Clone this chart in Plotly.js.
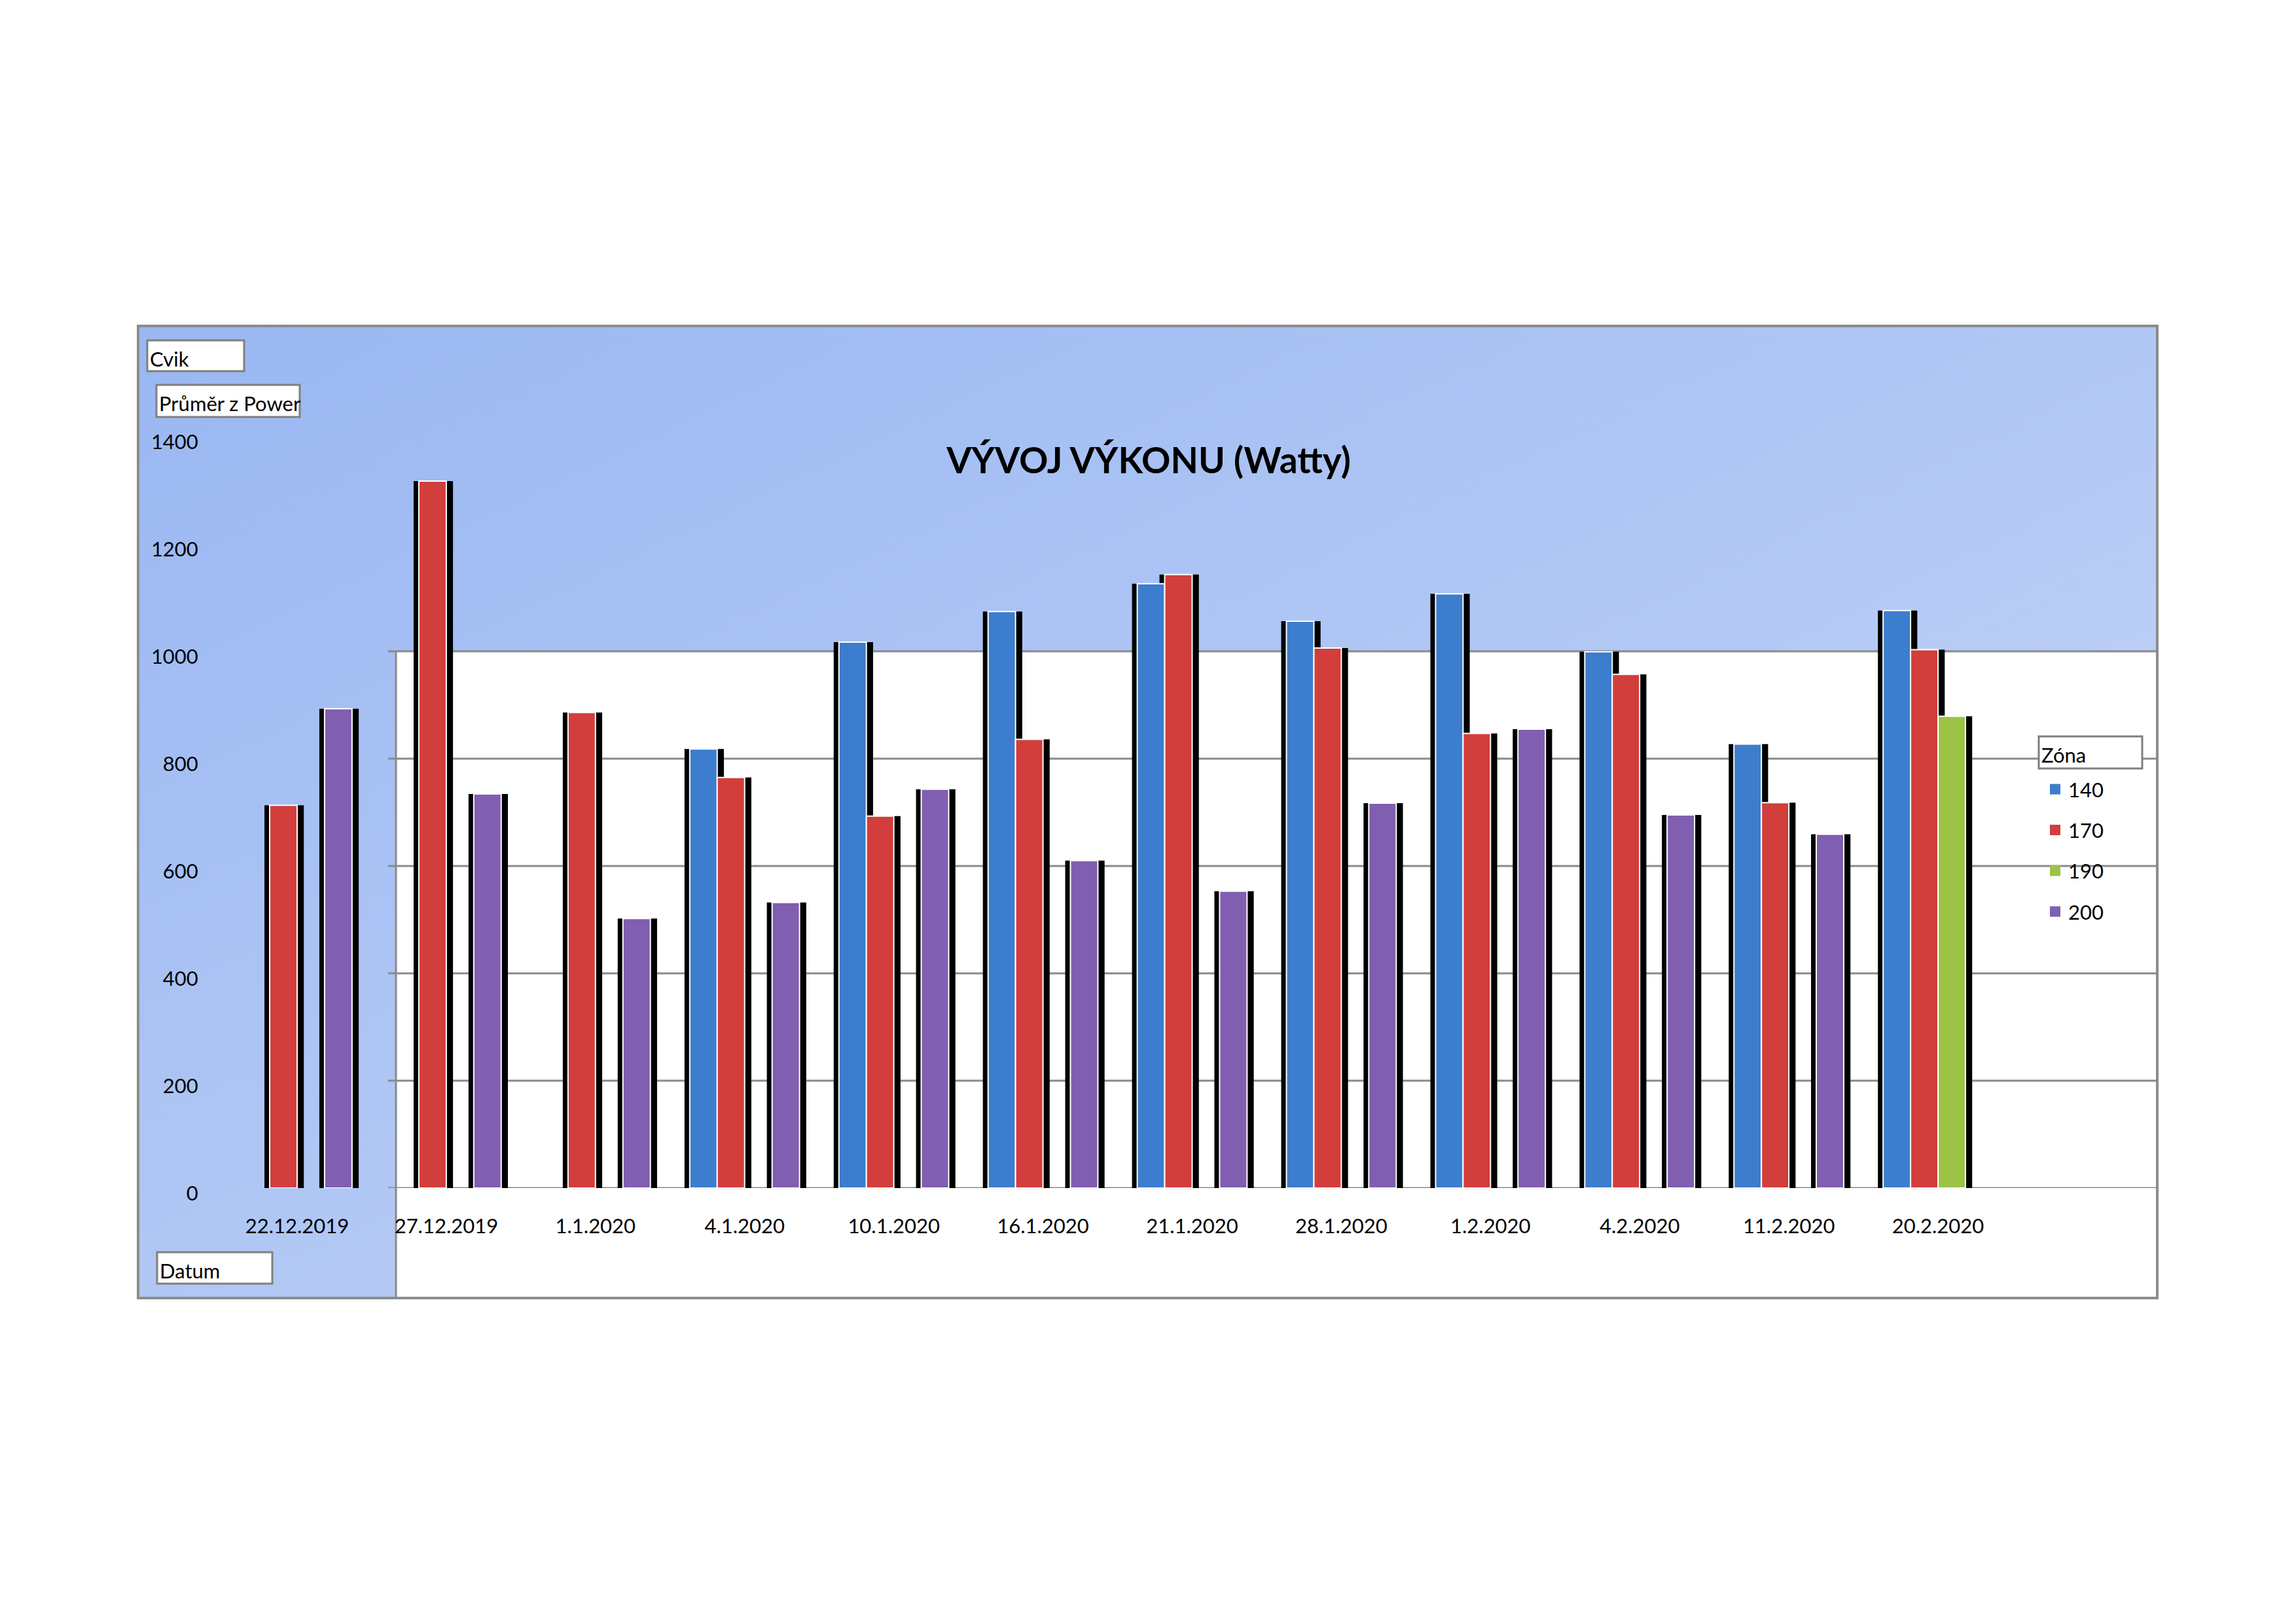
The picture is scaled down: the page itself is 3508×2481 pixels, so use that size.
<!DOCTYPE html>
<html>
<head>
<meta charset="utf-8">
<script src="https://cdn.plot.ly/plotly-3.0.1.min.js"></script>
<style>
  body { margin: 0; background: #fff; }
  #plot { width: 3508px; height: 2481px; }
</style>
</head>
<body>
<div id="plot"></div>
<script>
// data
let dates = ['22.12.2019', '27.12.2019', '1.1.2020', '4.1.2020', '10.1.2020', '16.1.2020',
  '21.1.2020', '28.1.2020', '1.2.2020', '4.2.2020', '11.2.2020', '20.2.2020'];
let zone140 = [null, null, null, 818, 1017, 1074, 1126, 1056, 1107, 999, 827, 1076];
let zone170 = [713, 1317, 886, 765, 693, 836, 1143, 1006, 847, 957, 718, 1003];
let zone190 = [null, null, null, null, null, null, null, null, null, null, null, 879];
let zone200 = [893, 734, 502, 532, 743, 610, 553, 717, 855, 695, 659, null];
let zoneNames = ['140', '170', '190', '200'];
let gridValues = [0, 200, 400, 600, 800, 1000];

let W = 3508, H = 2481;
let px = (x) => x / W;          // pixel -> paper x
let py = (y) => 1 - y / H;      // pixel -> paper y

let FONT = 'Lato, "Open Sans", sans-serif';
let colors = ['#3c7dcd', '#d23e3c', '#9bc446', '#805eb0'];
let series = [zone140, zone170, zone190, zone200];

let slot = 0.184;   // width of one bar, in category units
let traces = [];

// black "3d" rims first, so the coloured bars of the group sit over them
series.forEach(function (vals, i) {
  traces.push({
    type: 'bar', x: dates, y: vals,
    offset: (i - 2) * slot - 0.035, width: slot + 0.08,
    marker: { color: '#000000', line: { width: 0 } },
    showlegend: false, hoverinfo: 'skip'
  });
});
series.forEach(function (vals, i) {
  traces.push({
    type: 'bar', x: dates, y: vals, name: zoneNames[i],
    offset: (i - 2) * slot, width: slot,
    marker: { color: colors[i], line: { color: '#ffffff', width: 2 } },
    showlegend: false
  });
});
// legend swatches (no visible points)
zoneNames.forEach(function (n, i) {
  traces.push({
    type: 'scatter', mode: 'markers', x: [dates[0]], y: [null], name: n,
    legendgroup: 'g' + i,
    marker: { symbol: 'square', size: 18, color: colors[i] }
  });
});

// blue gradient of the chart area
let svgBg = "<svg xmlns='http://www.w3.org/2000/svg' width='100' height='100' viewBox='0 0 100 100' preserveAspectRatio='none'>" +
  "<defs><linearGradient id='g' x1='0' y1='0' x2='1' y2='1'>" +
  "<stop offset='0' stop-color='#99b7f2'/><stop offset='0.55' stop-color='#b3c9f5'/><stop offset='1' stop-color='#cddbf7'/>" +
  "</linearGradient></defs><rect width='100' height='100' fill='url(#g)'/></svg>";

let shapes = [];
// white plot floor
shapes.push({ type: 'rect', xref: 'paper', yref: 'paper', layer: 'below',
  x0: px(605), x1: px(3296), y0: py(1983), y1: py(995),
  fillcolor: '#ffffff', line: { width: 0 } });
shapes.push({ type: 'line', xref: 'paper', yref: 'paper', layer: 'below',
  x0: px(605), x1: px(605), y0: py(1983), y1: py(995),
  line: { color: '#8a8a8a', width: 3 } });
gridValues.forEach(function (v) {
  shapes.push({ type: 'line', xref: 'paper', yref: 'y', layer: 'below',
    x0: px(593), x1: px(3296), y0: v, y1: v,
    line: { color: '#8a8a8a', width: 3 } });
});
// outer frame
shapes.push({ type: 'rect', xref: 'paper', yref: 'paper',
  x0: px(211), x1: px(3296), y0: py(1983), y1: py(498),
  line: { color: '#8c8c8c', width: 4 } });

// pivot field buttons
let buttons = [
  { text: 'Cvik', x0: 225, x1: 373, y0: 520, y1: 567 },
  { text: 'Průměr z Power', x0: 239, x1: 458, y0: 588, y1: 637 },
  { text: 'Datum', x0: 240, x1: 416, y0: 1913, y1: 1961 },
  { text: 'Zóna', x0: 3115, x1: 3273, y0: 1125, y1: 1174 }
];
let annotations = [];
buttons.forEach(function (b) {
  shapes.push({ type: 'rect', xref: 'paper', yref: 'paper',
    x0: px(b.x0), x1: px(b.x1), y0: py(b.y1), y1: py(b.y0),
    fillcolor: '#ffffff', line: { color: '#7f7f7f', width: 3 } });
  annotations.push({ xref: 'paper', yref: 'paper', showarrow: false,
    x: px(b.x0 + 2), xanchor: 'left', y: py((b.y0 + b.y1) / 2 + 4), yanchor: 'middle',
    text: b.text, font: { family: FONT, size: 31, color: '#000' } });
});

let layout = {
  width: W, height: H,
  margin: { l: 0, r: 0, t: 0, b: 0 },
  paper_bgcolor: '#ffffff',
  plot_bgcolor: 'rgba(0,0,0,0)',
  barmode: 'overlay',
  title: {
    text: 'VÝVOJ VÝKONU (Watty)',
    xref: 'paper', yref: 'paper',
    x: px(1755), xanchor: 'center', y: py(704), yanchor: 'middle',
    font: { family: FONT, size: 55, weight: 700, color: '#000' }
  },
  xaxis: {
    type: 'category', domain: [px(340), px(3075)], range: [-0.5, 11.5],
    showgrid: false, zeroline: false, showline: false,
    ticks: 'outside', ticklen: 31, tickcolor: 'rgba(0,0,0,0)',
    tickfont: { family: FONT, size: 31, color: '#000' }
  },
  yaxis: {
    domain: [py(1815), py(667)], range: [0, 1400],
    tick0: 0, dtick: 200,
    showgrid: false, zeroline: false, showline: false,
    ticks: 'outside', ticklen: 30, tickcolor: 'rgba(0,0,0,0)',
    ticklabelshift: 8,
    tickfont: { family: FONT, size: 31, color: '#000' }
  },
  legend: {
    x: px(3120), xanchor: 'left', y: py(1179), yanchor: 'top',
    bgcolor: 'rgba(0,0,0,0)', borderwidth: 0,
    traceorder: 'grouped', tracegroupgap: 19,
    font: { family: FONT, size: 31, color: '#000' }
  },
  showlegend: true,
  images: [{
    source: 'data:image/svg+xml;charset=utf-8,' + encodeURIComponent(svgBg),
    xref: 'paper', yref: 'paper', layer: 'below',
    x: px(211), y: py(498), sizex: px(3296) - px(211), sizey: py(498) - py(1983),
    xanchor: 'left', yanchor: 'top', sizing: 'stretch'
  }],
  shapes: shapes,
  annotations: annotations
};

Plotly.newPlot('plot', traces, layout, { staticPlot: true });
</script>
</body>
</html>
